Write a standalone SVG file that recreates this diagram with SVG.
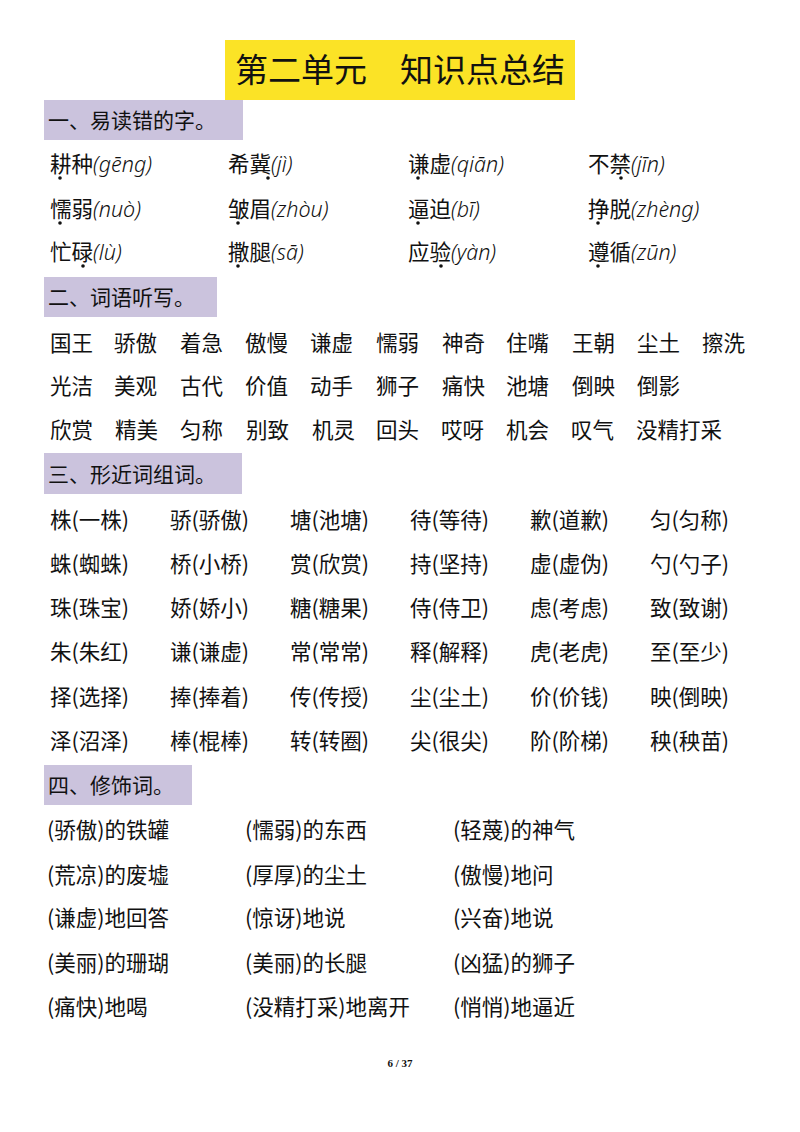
<svg xmlns="http://www.w3.org/2000/svg" width="800" height="1132" viewBox="0 0 800 1132">
<style>
text{font-family:"Noto Sans CJK SC","Noto Sans",sans-serif;fill:#111;}
.t{font-size:33px;}
.h{font-size:21px;}
.b{font-size:21.5px;}
.p{font-style:italic;font-weight:300;font-family:"Noto Sans","Noto Sans CJK SC",sans-serif;}
.hb{fill:#cbc3dd;}
.f{font-family:"Liberation Serif",serif;font-size:11px;font-weight:bold;}
</style>
<rect width="800" height="1132" fill="#fff"/>
<g id="title"><rect x="225" y="40" width="350" height="60" fill="#fbe326"/><text class="t" x="400" y="82" text-anchor="middle">第二单元　知识点总结</text></g>
<g id="sec1">
<rect class="hb" x="44" y="100" width="199" height="40"/><text class="h" x="48" y="128">一、易读错的字。</text>
<g class="b">
<text x="50" y="172">耕种<tspan class="p">(gēng)</tspan></text>
<text x="228" y="172">希冀<tspan class="p">(jì)</tspan></text>
<text x="408" y="172">谦虚<tspan class="p">(qiān)</tspan></text>
<text x="588" y="172">不禁<tspan class="p">(jīn)</tspan></text>
<text x="50" y="217">懦弱<tspan class="p">(nuò)</tspan></text>
<text x="228" y="217">皱眉<tspan class="p">(zhòu)</tspan></text>
<text x="408" y="217">逼迫<tspan class="p">(bī)</tspan></text>
<text x="588" y="217">挣脱<tspan class="p">(zhèng)</tspan></text>
<text x="50" y="260">忙碌<tspan class="p">(lù)</tspan></text>
<text x="228" y="260">撒腿<tspan class="p">(sā)</tspan></text>
<text x="408" y="260">应验<tspan class="p">(yàn)</tspan></text>
<text x="588" y="260">遵循<tspan class="p">(zūn)</tspan></text>
</g>
<g fill="#111">
<circle cx="60" cy="178" r="1.8"/><circle cx="268" cy="178" r="1.8"/><circle cx="418" cy="178" r="1.8"/><circle cx="621" cy="178" r="1.8"/>
<circle cx="60" cy="223" r="1.8"/><circle cx="238" cy="223" r="1.8"/><circle cx="418" cy="223" r="1.8"/><circle cx="598" cy="223" r="1.8"/>
<circle cx="83" cy="266" r="1.8"/><circle cx="238" cy="266" r="1.8"/><circle cx="441" cy="266" r="1.8"/><circle cx="598" cy="266" r="1.8"/>
</g>
</g>
<g id="sec2" class="b">
<rect class="hb" x="44" y="277" width="173" height="40"/><text class="h" x="48" y="305">二、词语听写。</text>
<text y="351"><tspan x="50">国王</tspan><tspan x="114">骄傲</tspan><tspan x="180">着急</tspan><tspan x="245">傲慢</tspan><tspan x="310">谦虚</tspan><tspan x="376">懦弱</tspan><tspan x="442">神奇</tspan><tspan x="506">住嘴</tspan><tspan x="572">王朝</tspan><tspan x="637">尘土</tspan><tspan x="702">擦洗</tspan></text>
<text y="394"><tspan x="50">光洁</tspan><tspan x="114">美观</tspan><tspan x="180">古代</tspan><tspan x="245">价值</tspan><tspan x="310">动手</tspan><tspan x="376">狮子</tspan><tspan x="442">痛快</tspan><tspan x="506">池塘</tspan><tspan x="572">倒映</tspan><tspan x="637">倒影</tspan></text>
<text y="438"><tspan x="50">欣赏</tspan><tspan x="115">精美</tspan><tspan x="180">匀称</tspan><tspan x="246">别致</tspan><tspan x="312">机灵</tspan><tspan x="376">回头</tspan><tspan x="441">哎呀</tspan><tspan x="506">机会</tspan><tspan x="571">叹气</tspan><tspan x="636">没精打采</tspan></text>
</g>
<g id="sec3" class="b">
<rect class="hb" x="44" y="453" width="198" height="41"/><text class="h" x="48" y="482">三、形近词组词。</text>
<text y="528"><tspan x="50">株(一株)</tspan><tspan x="170">骄(骄傲)</tspan><tspan x="290">塘(池塘)</tspan><tspan x="410">待(等待)</tspan><tspan x="530">歉(道歉)</tspan><tspan x="650">匀(匀称)</tspan></text>
<text y="572"><tspan x="50">蛛(蜘蛛)</tspan><tspan x="170">桥(小桥)</tspan><tspan x="290">赏(欣赏)</tspan><tspan x="410">持(坚持)</tspan><tspan x="530">虚(虚伪)</tspan><tspan x="650">勺(勺子)</tspan></text>
<text y="616"><tspan x="50">珠(珠宝)</tspan><tspan x="170">娇(娇小)</tspan><tspan x="290">糖(糖果)</tspan><tspan x="410">侍(侍卫)</tspan><tspan x="530">虑(考虑)</tspan><tspan x="650">致(致谢)</tspan></text>
<text y="660"><tspan x="50">朱(朱红)</tspan><tspan x="170">谦(谦虚)</tspan><tspan x="290">常(常常)</tspan><tspan x="410">释(解释)</tspan><tspan x="530">虎(老虎)</tspan><tspan x="650">至(至少)</tspan></text>
<text y="705"><tspan x="50">择(选择)</tspan><tspan x="170">捧(捧着)</tspan><tspan x="290">传(传授)</tspan><tspan x="410">尘(尘土)</tspan><tspan x="530">价(价钱)</tspan><tspan x="650">映(倒映)</tspan></text>
<text y="749"><tspan x="50">泽(沼泽)</tspan><tspan x="170">棒(棍棒)</tspan><tspan x="290">转(转圈)</tspan><tspan x="410">尖(很尖)</tspan><tspan x="530">阶(阶梯)</tspan><tspan x="650">秧(秧苗)</tspan></text>
</g>
<g id="sec4" class="b">
<rect class="hb" x="44" y="765" width="148" height="40"/><text class="h" x="48" y="793">四、修饰词。</text>
<text y="838"><tspan x="47">(骄傲)的铁罐</tspan><tspan x="245">(懦弱)的东西</tspan><tspan x="453">(轻蔑)的神气</tspan></text>
<text y="883"><tspan x="47">(荒凉)的废墟</tspan><tspan x="245">(厚厚)的尘土</tspan><tspan x="453">(傲慢)地问</tspan></text>
<text y="926"><tspan x="47">(谦虚)地回答</tspan><tspan x="245">(惊讶)地说</tspan><tspan x="453">(兴奋)地说</tspan></text>
<text y="971"><tspan x="47">(美丽)的珊瑚</tspan><tspan x="245">(美丽)的长腿</tspan><tspan x="453">(凶猛)的狮子</tspan></text>
<text y="1015"><tspan x="47">(痛快)地喝</tspan><tspan x="245">(没精打采)地离开</tspan><tspan x="453">(悄悄)地逼近</tspan></text>
</g>
<text class="f" x="400" y="1067" text-anchor="middle">6 / 37</text>
</svg>
